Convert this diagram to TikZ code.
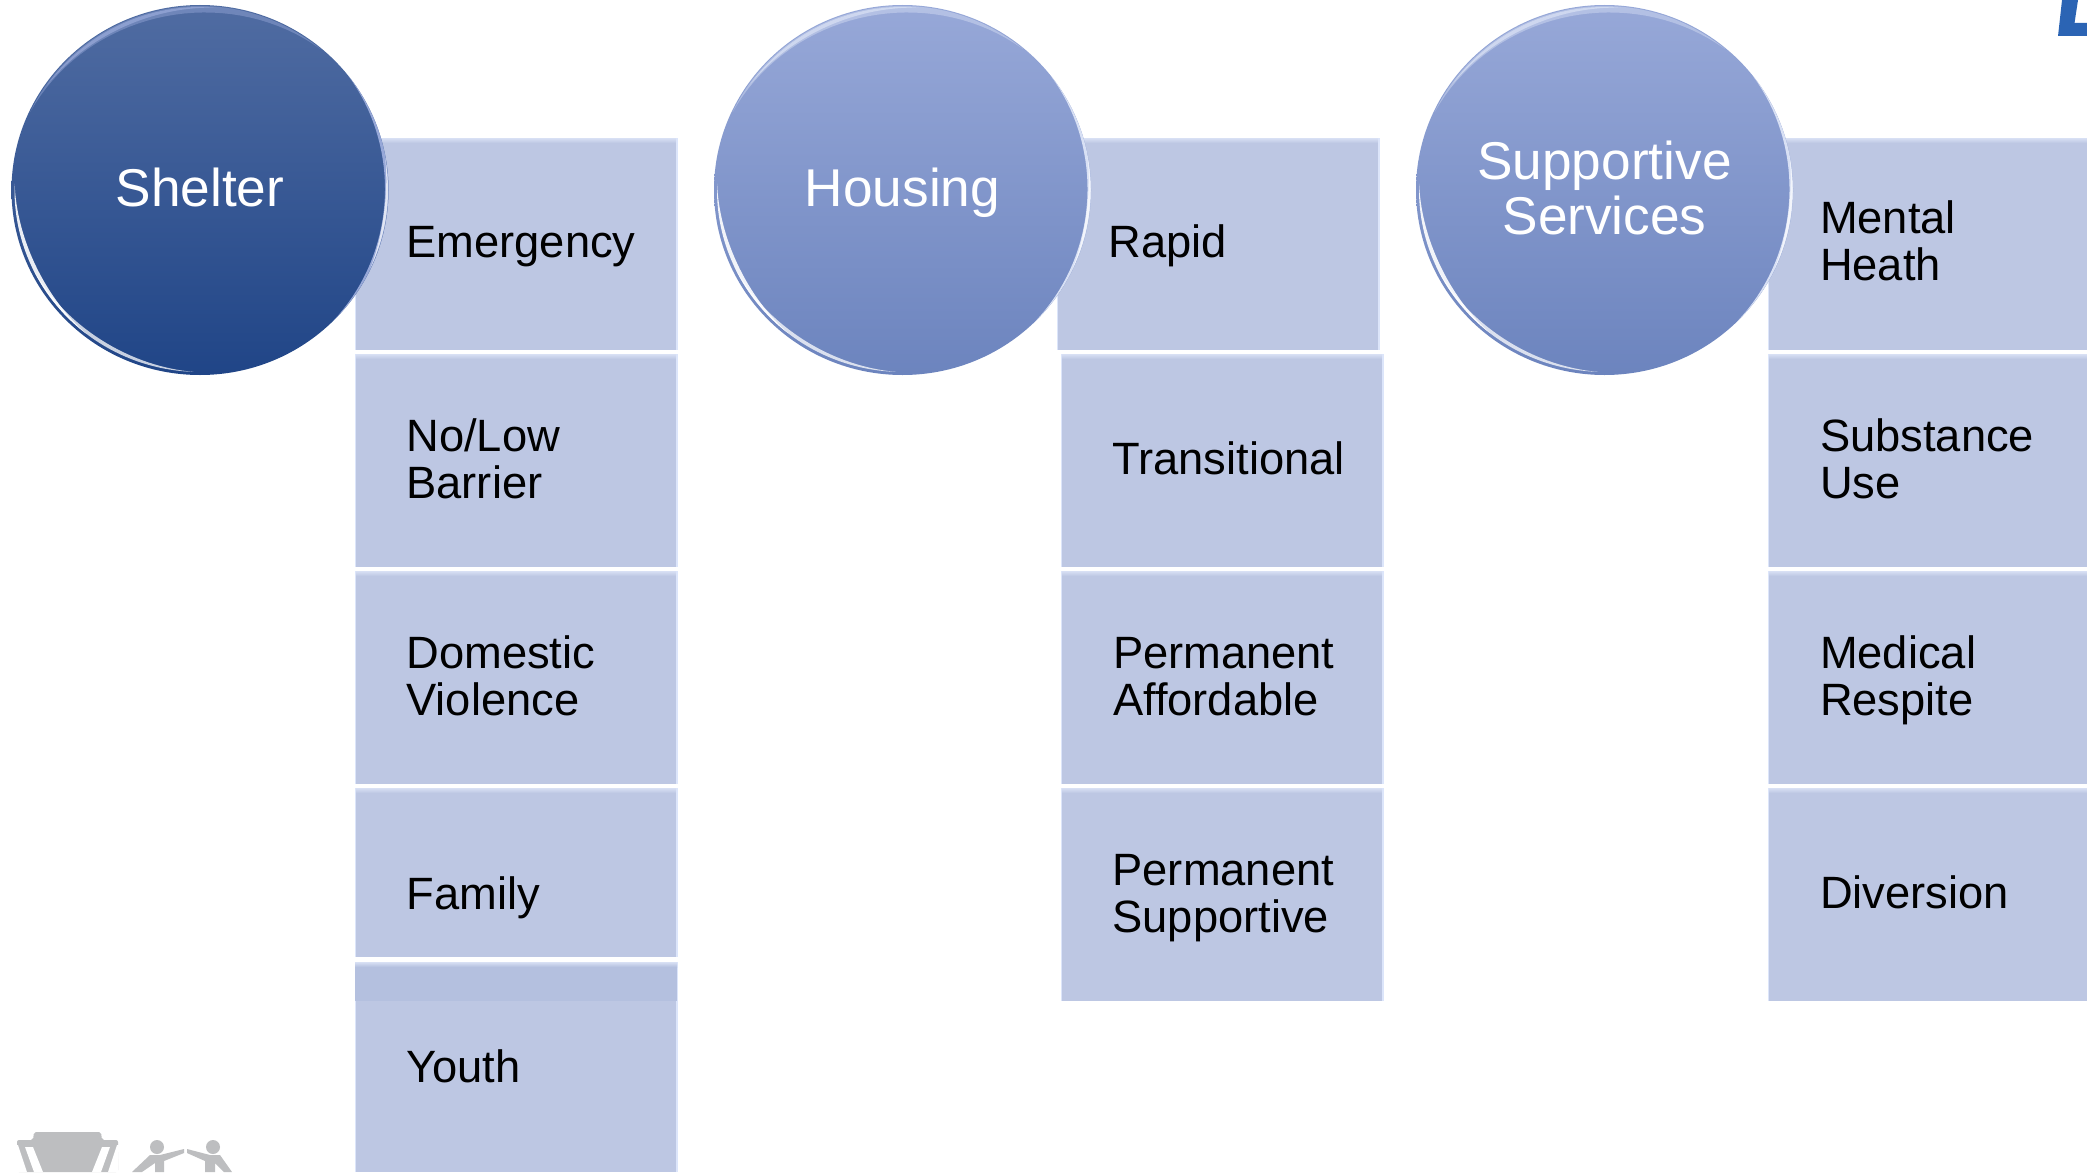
\documentclass[tikz,border=0pt]{standalone}
\usepackage{fontspec}
\setmainfont{Liberation Sans}
\usetikzlibrary{shapes.geometric}
\definecolor{boxfill}{HTML}{BDC7E3}
\definecolor{boxband}{HTML}{B4C0DF}
\definecolor{boxedge}{HTML}{DCE5FA}
\definecolor{boxtop}{HTML}{D8E0F4}
\definecolor{logogrey}{HTML}{BDBEC0}
\definecolor{logoblue}{HTML}{2B64B4}
\definecolor{hd1}{HTML}{506CA2}
\definecolor{hd2}{HTML}{2C5295}
\definecolor{hd3}{HTML}{204587}
\definecolor{hl1}{HTML}{97A8D8}
\definecolor{hl2}{HTML}{8098D2}
\definecolor{hl3}{HTML}{6C84BE}
\tikzset{
  item/.style={rectangle,anchor=north west,inner sep=0pt,outer sep=0pt,fill=boxfill},
  lab/.style={anchor=base west,inner sep=0pt,outer sep=0pt,align=left,text=black,font=\fontsize{45.3}{47}\selectfont},
  hub/.style={ellipse,inner sep=0pt,outer sep=0pt,minimum width=377pt,minimum height=370pt},
  hubdark/.style={hub,top color=hd1,middle color=hd2,bottom color=hd3},
  hublight/.style={hub,top color=hl1,middle color=hl2,bottom color=hl3},
  hubtext/.style={anchor=base,inner sep=0pt,outer sep=0pt,align=center,text=white,font=\fontsize{53.2}{55}\selectfont},
}
\newcommand{\bevelbox}[5]{%
  \node[item,minimum width=#4pt,minimum height=#5pt] (#1) at (#2,#3) {};
  \fill[top color=boxtop,bottom color=boxfill] (#1.north west) rectangle ([yshift=-5pt]#1.north east);
  \draw[boxedge,line width=1.2pt] (#1.north east) -- (#1.south east);
  \draw[boxedge,line width=0.8pt] (#1.north west) -- (#1.south west);
}
% tapered crescent along the rim: node, from angle, to angle, inset, max width, colour, opacity
\newcommand{\crescent}[7]{%
  \begin{scope}[shift={(#1.center)},x=1pt,y=1pt]
    \fill[#6,opacity=#7]
      plot[domain=#2:#3,samples=36] ({(188.5-#4)*cos(\x)},{(185-#4)*sin(\x)})
      -- plot[domain=#3:#2,samples=36]
        ({(188.5-#4-#5*sin((\x-(#2))/((#3)-(#2))*180))*cos(\x)},{(185-#4-#5*sin((\x-(#2))/((#3)-(#2))*180))*sin(\x)})
      -- cycle;
  \end{scope}
}
\newcommand{\rim}[2]{% node name, highlight colour
  \crescent{#1}{50}{155}{1}{7}{#2}{.45}
  \crescent{#1}{85}{145}{2}{3.5}{#2}{.75}
  \crescent{#1}{-45}{38}{0}{3.5}{#2}{1}
  \crescent{#1}{-25}{10}{0.5}{2.5}{white}{.7}
  \crescent{#1}{178}{232}{3}{4}{white}{.9}
  \crescent{#1}{205}{268}{3}{3.5}{white}{.75}
}
\begin{document}
\begin{tikzpicture}[x=1pt,y=-1pt]
\useasboundingbox (0,0) rectangle (2087,1172);
\fill[white] (0,0) rectangle (2087,1172);

% logo fragments
\fill[logoblue] (2062,0) -- (2058,36) -- (2087,36) -- (2087,23) -- (2074.5,23) -- (2078,0) -- cycle;
\fill[logogrey,rounded corners=2pt] (17,1172) -- (17,1140) -- (33,1140) -- (34,1132) -- (101,1132) -- (102,1140) -- (118,1140) -- (118,1172) -- cycle;
\fill[white] (17,1172) -- (16,1145) -- (18,1145) -- (27,1172) -- cycle;
\fill[white] (118,1172) -- (119,1145) -- (117,1145) -- (108,1172) -- cycle;
\fill[white] (25,1147) -- (33,1147) -- (43,1172) -- (34,1172) -- cycle;
\fill[white] (110,1147) -- (102,1147) -- (92,1172) -- (101,1172) -- cycle;
\fill[logogrey] (157,1147) circle[radius=7pt];
\fill[logogrey] (213,1147) circle[radius=7pt];
\fill[logogrey] (132,1172) -- (150,1155) -- (160,1155) -- (184,1149) -- (184,1153) -- (164,1161) -- (164,1172) -- (155,1172) -- (155,1163) -- (142,1172) -- cycle;
\fill[logogrey] (232,1172) -- (220,1155) -- (210,1155) -- (187,1149) -- (187,1153) -- (205,1161) -- (205,1172) -- (215,1172) -- (215,1163) -- (224,1172) -- cycle;

% column 1
\bevelbox{a1}{355}{138}{322}{212}
\bevelbox{a2}{355}{354}{322}{213}
\bevelbox{a3}{355}{571}{322}{213}
\bevelbox{a4}{355}{788}{322}{169}
\bevelbox{a5}{355}{962}{322}{210}
\fill[boxband] (a5.north west) rectangle ([yshift=-39pt]a5.north east);
\fill[top color=boxtop,bottom color=boxband] (a5.north west) rectangle ([yshift=-5pt]a5.north east);
% column 2
\bevelbox{b1}{1057}{138}{322}{212}
\bevelbox{b2}{1061}{354}{322}{213}
\bevelbox{b3}{1061}{571}{322}{213}
\bevelbox{b4}{1061}{788}{322}{213}
% column 3
\bevelbox{c1}{1768}{138}{320}{212}
\bevelbox{c2}{1768}{354}{320}{213}
\bevelbox{c3}{1768}{571}{320}{213}
\bevelbox{c4}{1768}{788}{320}{213}

% labels
\node[lab] (ta1) at (406.5,257) {Emergency};
\node[lab] (ta2) at (406.5,498) {No/Low\\Barrier};
\node[lab] (ta3) at (406.5,715) {Domestic\\Violence};
\node[lab] (ta4) at (406.5,909) {Family};
\node[lab] (ta5) at (406.5,1082) {Youth};
\node[lab] (tb1) at (1108.5,257) {Rapid};
\node[lab] (tb2) at (1112.5,474) {Transitional};
\node[lab] (tb3) at (1113,715) {Permanent\\Affordable};
\node[lab] (tb4) at (1112.5,932) {Permanent\\Supportive};
\node[lab] (tc1) at (1820,280) {Mental\\Heath};
\node[lab] (tc2) at (1820,498) {Substance\\Use};
\node[lab] (tc3) at (1820,715) {Medical\\Respite};
\node[lab] (tc4) at (1820,908) {Diversion};

% hubs
\node[hubdark] (shelter) at (200,190) {};
\rim{shelter}{hl1}
\node[hubtext] (tshelter) at (200,206.5) {Shelter};
\node[hublight] (housing) at (902.5,190) {};
\rim{housing}{boxtop}
\node[hubtext] (thousing) at (902.5,206.5) {Housing};
\node[hublight] (support) at (1604.5,190) {};
\rim{support}{boxtop}
\node[hubtext] (tsupport) at (1604.5,234) {Supportive\\Services};
\end{tikzpicture}
\end{document}
